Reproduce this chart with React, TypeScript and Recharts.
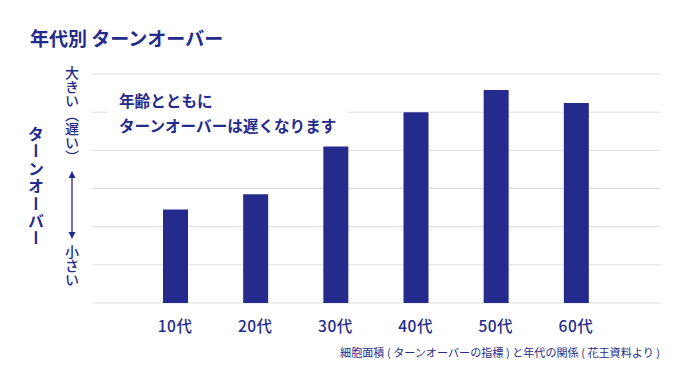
import { Bar, BarChart, CartesianGrid, XAxis, YAxis } from "recharts";

const ages = ["10代", "20代", "30代", "40代", "50代", "60代"];
const turnover = [2.45, 2.85, 4.1, 5.0, 5.58, 5.24];
const yTicks = [0, 1, 2, 3, 4, 5, 6];

const NAVY = "#252B8C";
const FONT = '"Noto Sans CJK JP", "Noto Sans", sans-serif';

const chartData = ages.map((age, i) => ({ age, value: turnover[i] }));

export default function App() {
  return (
    <div style={{ position: "relative", width: 690, height: 388, background: "#fff", fontFamily: FONT }}>
      <style>{"body{margin:0}"}</style>
      <BarChart
        width={690}
        height={388}
        data={chartData}
        margin={{ top: 74, right: 29, bottom: 55, left: 92 }}
      >
        <CartesianGrid vertical={false} stroke="#dedede" strokeWidth={1} />
        <XAxis
          dataKey="age"
          height={30}
          axisLine={false}
          tickLine={false}
          tickMargin={12}
          padding={{ left: 43, right: 45 }}
          tick={{ fill: NAVY, fontSize: 15.5, fontWeight: 500, fontFamily: FONT, letterSpacing: 0.5 }}
        />
        <YAxis hide domain={[0, 6]} ticks={yTicks} />
        <Bar dataKey="value" fill={NAVY} barSize={25} isAnimationActive={false} />
      </BarChart>

      <div
        style={{
          position: "absolute",
          left: 30,
          top: 27,
          fontSize: 19,
          lineHeight: "21px",
          fontWeight: 700,
          color: NAVY,
        }}
      >
        年代別 ターンオーバー
      </div>

      <div
        style={{
          position: "absolute",
          left: 28,
          top: 126,
          writingMode: "vertical-rl",
          fontSize: 16,
          lineHeight: "16px",
          letterSpacing: 1.4,
          fontWeight: 700,
          color: NAVY,
        }}
      >
        ターンオーバー
      </div>

      <div
        style={{
          position: "absolute",
          left: 65,
          top: 66,
          writingMode: "vertical-rl",
          fontSize: 14,
          lineHeight: "14px",
          fontWeight: 500,
          color: NAVY,
        }}
      >
        大きい（遅い）
      </div>
      <svg style={{ position: "absolute", left: 66, top: 170 }} width={12} height={70}>
        <line x1={6} y1={4} x2={6} y2={66} stroke={NAVY} strokeWidth={1.3} />
        <polygon points="6,1 2.5,8 9.5,8" fill={NAVY} />
        <polygon points="6,69 2.5,62 9.5,62" fill={NAVY} />
      </svg>
      <div
        style={{
          position: "absolute",
          left: 65,
          top: 245,
          writingMode: "vertical-rl",
          fontSize: 14,
          lineHeight: "14px",
          fontWeight: 500,
          color: NAVY,
        }}
      >
        小さい
      </div>

      <div
        style={{
          position: "absolute",
          left: 107,
          top: 80,
          width: 241,
          height: 62,
          background: "#fff",
        }}
      />
      <div
        style={{
          position: "absolute",
          left: 119,
          top: 88,
          fontSize: 15.6,
          lineHeight: "25px",
          fontWeight: 700,
          color: NAVY,
          whiteSpace: "nowrap",
        }}
      >
        年齢とともに
        <br />
        ターンオーバーは遅くなります
      </div>

      <div
        style={{
          position: "absolute",
          right: 30,
          top: 345,
          fontSize: 11.1,
          lineHeight: "14px",
          color: NAVY,
          whiteSpace: "nowrap",
        }}
      >
        細胞面積 ( ターンオーバーの指標 ) と年代の関係 ( 花王資料より )
      </div>
    </div>
  );
}
